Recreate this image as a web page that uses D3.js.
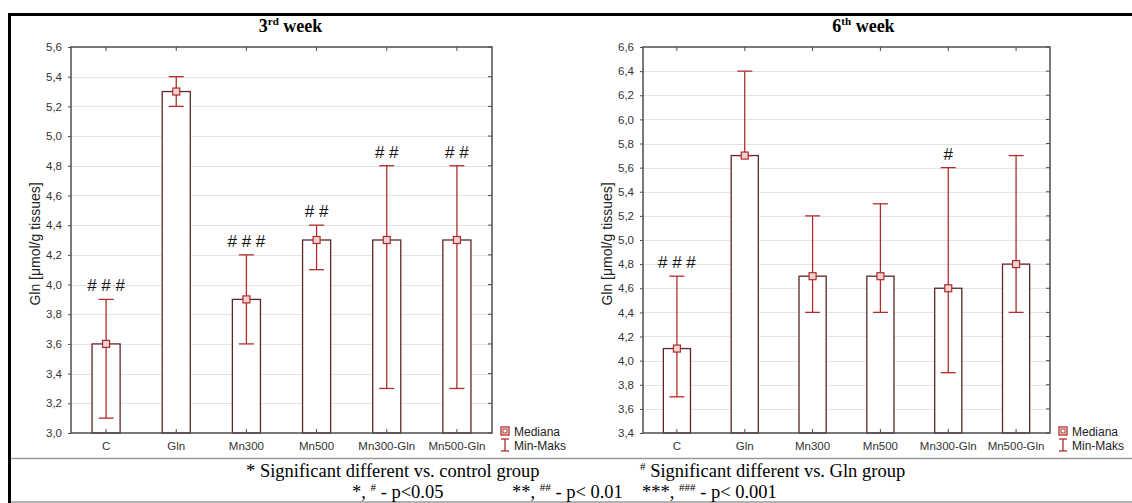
<!DOCTYPE html>
<html><head><meta charset="utf-8">
<script src="https://cdn.jsdelivr.net/npm/d3@7"></script>
<style>
body{margin:0;background:#fff;}
svg{display:block;}
</style>
</head><body>
<svg id="c" width="1132" height="503"></svg>
<script>
// ---- data ----
const categories = ["C","Gln","Mn300","Mn500","Mn300-Gln","Mn500-Gln"];
const week3Median = [3.6,5.3,3.9,4.3,4.3,4.3];
const week3Min    = [3.1,5.2,3.6,4.1,3.3,3.3];
const week3Max    = [3.9,5.4,4.2,4.4,4.8,4.8];
const week3Marks  = ["# # #","","# # #","# #","# #","# #"];
const week3Ticks  = [3.0,3.2,3.4,3.6,3.8,4.0,4.2,4.4,4.6,4.8,5.0,5.2,5.4,5.6];
const week6Median = [4.1,5.7,4.7,4.7,4.6,4.8];
const week6Min    = [3.7,5.7,4.4,4.4,3.9,4.4];
const week6Max    = [4.7,6.4,5.2,5.3,5.6,5.7];
const week6Marks  = ["# # #","","","","#",""];
const week6Ticks  = [3.4,3.6,3.8,4.0,4.2,4.4,4.6,4.8,5.0,5.2,5.4,5.6,5.8,6.0,6.2,6.4,6.6];
const yLabel = "Gln [μmol/g tissues]";
const legendLabels = ["Mediana","Min-Maks"];

const svg = d3.select("#c");
const SANS = "'Liberation Sans', Arial, sans-serif";
const SERIF = "'Liberation Serif', 'Times New Roman', serif";
const frameCol = "#4d4d4d", barCol = "#5e2626", errCol = "#b02c2c", gridCol = "#e4e4e4";
const fmt = v => d3.format(".1f")(v).replace(".", ",");

// outer frame
svg.append("line").attr("x1",8).attr("x2",1132).attr("y1",14.5).attr("y2",14.5).attr("stroke","#000").attr("stroke-width",3);
svg.append("line").attr("x1",9.5).attr("x2",9.5).attr("y1",13).attr("y2",503).attr("stroke","#000").attr("stroke-width",3);
svg.append("line").attr("x1",11).attr("x2",1132).attr("y1",458.5).attr("y2",458.5).attr("stroke","#9a9a9a").attr("stroke-width",1.5);
svg.append("line").attr("x1",11).attr("x2",1132).attr("y1",502).attr("y2",502).attr("stroke","#9a9a9a").attr("stroke-width",1.5);

function panel(o){
  const g = svg.append("g");
  const x = d3.scaleBand().domain(categories).range([o.x0,o.x1]);
  const y = d3.scaleLinear().domain(o.domain).range([433,47]);
  const bw = x.bandwidth()*0.4;
  // grid
  g.append("g").selectAll("line").data(o.ticks.slice(1,-1)).join("line")
    .attr("x1",o.x0).attr("x2",o.x1).attr("y1",d=>Math.round(y(d))+0.5).attr("y2",d=>Math.round(y(d))+0.5)
    .attr("stroke",gridCol).attr("stroke-width",1);
  // y tick labels
  const ax = g.append("g").attr("transform",`translate(${o.x0},0)`)
    .call(d3.axisLeft(y).tickValues(o.ticks).tickFormat(fmt).tickSize(3).tickPadding(6));
  ax.select(".domain").remove();
  ax.selectAll("line").attr("stroke",frameCol);
  ax.selectAll("text").attr("font-family",SANS).attr("font-size",11.5).attr("fill","#333");
  // right ticks
  g.append("g").selectAll("line").data(o.ticks).join("line")
    .attr("x1",o.x1-4).attr("x2",o.x1).attr("y1",d=>y(d)).attr("y2",d=>y(d)).attr("stroke",frameCol);
  // top ticks
  g.append("g").selectAll("line").data(categories).join("line")
    .attr("x1",d=>x(d)+x.bandwidth()/2).attr("x2",d=>x(d)+x.bandwidth()/2)
    .attr("y1",47).attr("y2",51).attr("stroke",frameCol);
  // bars
  g.append("g").selectAll("rect").data(categories).join("rect")
    .attr("x",d=>x(d)+x.bandwidth()/2-bw/2).attr("width",bw)
    .attr("y",(d,i)=>y(o.median[i])).attr("height",(d,i)=>433-y(o.median[i]))
    .attr("fill","#fff").attr("stroke",barCol).attr("stroke-width",1.3);
  // bottom ticks
  g.append("g").selectAll("line").data(categories).join("line")
    .attr("x1",d=>x(d)+x.bandwidth()/2).attr("x2",d=>x(d)+x.bandwidth()/2)
    .attr("y1",429).attr("y2",433).attr("stroke",frameCol);
  // error bars
  const cap = 15;
  const eb = g.append("g").attr("stroke",errCol).attr("stroke-width",1.3);
  categories.forEach((c,i)=>{
    const cx = x(c)+x.bandwidth()/2;
    eb.append("line").attr("x1",cx).attr("x2",cx).attr("y1",y(o.min[i])).attr("y2",y(o.max[i]));
    eb.append("line").attr("x1",cx-cap/2).attr("x2",cx+cap/2).attr("y1",y(o.min[i])).attr("y2",y(o.min[i]));
    eb.append("line").attr("x1",cx-cap/2).attr("x2",cx+cap/2).attr("y1",y(o.max[i])).attr("y2",y(o.max[i]));
    // median marker
    g.append("rect").attr("x",cx-3.5).attr("y",y(o.median[i])-3.5).attr("width",7).attr("height",7)
      .attr("fill","#efd3d3").attr("stroke",errCol).attr("stroke-width",1.2);
    // significance marks
    if(o.marks[i]) g.append("text").attr("x",cx).attr("y",y(o.max[i])-8).attr("text-anchor","middle")
      .attr("font-family",SANS).attr("font-size",17).attr("fill","#111").text(o.marks[i]);
  });
  // frame
  g.append("rect").attr("x",o.x0).attr("y",47).attr("width",o.x1-o.x0).attr("height",386)
    .attr("fill","none").attr("stroke",frameCol).attr("stroke-width",1.5);
  // x labels
  g.append("g").selectAll("text").data(categories).join("text")
    .attr("x",d=>x(d)+x.bandwidth()/2).attr("y",450).attr("text-anchor","middle")
    .attr("font-family",SANS).attr("font-size",11.5).attr("fill","#333").text(d=>d);
  // y label
  g.append("text").attr("transform",`translate(${o.x0-31},244) rotate(-90)`).attr("text-anchor","middle")
    .attr("font-family",SANS).attr("font-size",14).attr("fill","#222").text(yLabel);
  // title
  const t = g.append("text").attr("x",(o.x0+o.x1)/2+o.tdx).attr("y",32).attr("text-anchor","middle")
    .attr("font-family",SERIF).attr("font-weight","bold").attr("font-size",18).attr("fill","#000");
  t.append("tspan").text(o.tNum);
  t.append("tspan").attr("font-size",11).attr("dy",-7).text(o.tSup);
  t.append("tspan").attr("dy",7).text(" week");
  // legend
  const lx = o.x1+9;
  g.append("rect").attr("x",lx).attr("y",427).attr("width",8).attr("height",8).attr("fill","#fff").attr("stroke",errCol).attr("stroke-width",1.3);
  g.append("rect").attr("x",lx+2).attr("y",429).attr("width",4).attr("height",4).attr("fill","#fff").attr("stroke",errCol).attr("stroke-width",1);
  const li = g.append("g").attr("stroke",errCol).attr("stroke-width",1.3);
  li.append("line").attr("x1",lx+4).attr("x2",lx+4).attr("y1",439).attr("y2",451);
  li.append("line").attr("x1",lx).attr("x2",lx+8).attr("y1",439).attr("y2",439);
  li.append("line").attr("x1",lx).attr("x2",lx+8).attr("y1",451).attr("y2",451);
  g.append("text").attr("x",lx+13).attr("y",436).attr("font-family",SANS).attr("font-size",12).attr("fill","#222").text(legendLabels[0]);
  g.append("text").attr("x",lx+13).attr("y",450).attr("font-family",SANS).attr("font-size",12).attr("fill","#222").text(legendLabels[1]);
}

panel({x0:71,x1:492,domain:[3.0,5.6],ticks:week3Ticks,median:week3Median,min:week3Min,max:week3Max,marks:week3Marks,tNum:"3",tSup:"rd",tdx:9});
panel({x0:643,x1:1050,domain:[3.4,6.6],ticks:week6Ticks,median:week6Median,min:week6Min,max:week6Max,marks:week6Marks,tNum:"6",tSup:"th",tdx:17});

// footer notes
const f = svg.append("g").attr("font-family",SERIF).attr("fill","#000").attr("font-size",18.5);
f.append("text").attr("x",246).attr("y",477).text("* Significant different vs. control group");
const f2 = f.append("text").attr("x",640).attr("y",477);
f2.append("tspan").attr("font-size",11).attr("dy",-7).text("#");
f2.append("tspan").attr("dy",7).text(" Significant different vs. Gln group");
function note(xp, stars, hashes, p){
  const t = f.append("text").attr("x",xp).attr("y",498);
  t.append("tspan").text(stars+", ");
  t.append("tspan").attr("font-size",11).attr("dy",-7).text(hashes);
  t.append("tspan").attr("dy",7).text(" - "+p);
}
note(352,"*","#","p<0.05");
note(512,"**","##","p< 0.01");
note(642,"***","###","p< 0.001");
</script>
</body></html>
